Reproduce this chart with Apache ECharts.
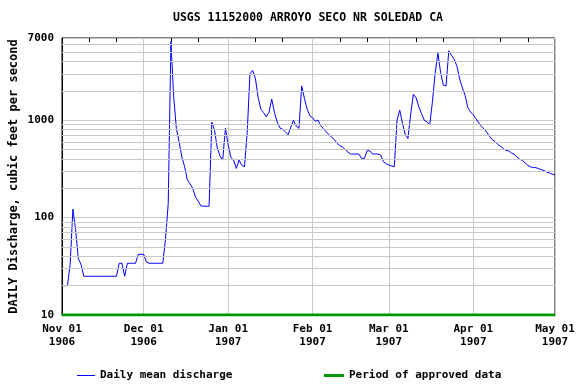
<!DOCTYPE html>
<html><head><meta charset="utf-8">
<script src="https://cdn.jsdelivr.net/npm/echarts@6/dist/echarts.min.js"></script>
<style>html,body{margin:0;padding:0;background:#fff}#c{width:576px;height:384px}</style>
</head><body><div id="c"></div>
<script>
// Daily mean discharge, cfs, 1906-11-01 .. 1907-05-01
const discharge = [
  20,20,20,33,122,75,38,33,25,25,
  25,25,25,25,25,25,25,25,25,25,
  25,34,34,25,34,34,34,34,42,42,
  42,35,34,34,34,34,34,34,60,140,
  6460,1740,820,600,420,335,245,222,200,163,
  148,132,131,131,131,960,790,520,430,390,
  830,560,415,390,320,390,345,333,750,3000,
  3250,2700,1720,1300,1200,1087,1210,1650,1200,960,
  835,810,762,710,850,1000,870,826,2250,1680,
  1300,1110,1060,975,1005,880,820,760,710,670,
  635,580,548,530,500,470,450,450,450,450,
  406,406,486,486,450,450,450,440,375,358,
  347,340,333,1000,1270,930,720,650,1150,1850,
  1700,1380,1170,1000,965,893,1550,3030,4900,3100,
  2300,2250,5180,4650,4230,3600,2650,2150,1800,1350,
  1215,1135,1040,940,865,815,750,680,630,605,
  565,540,515,490,485,460,448,420,398,388,
  366,345,332,328,326,318,311,305,293,287,
  280,275
];
const monthTickIdx = [0, 30, 61, 92, 120, 151, 181];
const monthTickLabels = ['Nov 01\n1906','Dec 01\n1906','Jan 01\n1907','Feb 01\n1907','Mar 01\n1907','Apr 01\n1907','May 01\n1907'];
const minorGridValues = [20,30,40,50,60,70,80,90,200,300,400,500,600,700,800,900,2000,3000,4000,5000,6000];
const approvedPeriod = ['1906-11-01', '1907-05-01'];
const approvedLevel = 10;

const dates = [];
(function(){
  const t0 = Date.UTC(1906, 10, 1);
  for (let i = 0; i < discharge.length; i++) {
    dates.push(new Date(t0 + i * 86400000).toISOString().slice(0, 10));
  }
})();

const FONT = "'DejaVu Sans Mono', monospace";
const isMonthStart = (i) => monthTickIdx.indexOf(i) >= 0;

const chart = echarts.init(document.getElementById('c'), null, {renderer: 'canvas'});
chart.setOption({
  animation: false,
  backgroundColor: '#ffffff',
  title: {
    text: 'USGS 11152000 ARROYO SECO NR SOLEDAD CA',
    left: 308, top: 12, textAlign: 'center', padding: 0,
    textStyle: {fontFamily: FONT, fontWeight: 'bold', fontSize: 11.5, color: '#000'}
  },
  grid: {left: 62, right: 21, top: 38, bottom: 69, show: true, borderColor: '#000', borderWidth: 1,
         containLabel: false, outerBoundsMode: 'none'},
  legend: [
    {data: ['Daily mean discharge'], left: 77, top: 370, padding: 0, icon: 'rect', itemWidth: 18, itemHeight: 1,
     selectedMode: false, textStyle: {fontFamily: FONT, fontWeight: 'bold', fontSize: 11, color: '#000'}},
    {data: ['Period of approved data'], left: 324, top: 370, padding: 0, icon: 'rect', itemWidth: 20, itemHeight: 3,
     selectedMode: false, textStyle: {fontFamily: FONT, fontWeight: 'bold', fontSize: 11, color: '#000'}}
  ],
  xAxis: [
    {
      type: 'category', data: dates, boundaryGap: false, position: 'bottom',
      axisLine: {show: true, lineStyle: {color: '#000'}},
      axisTick: {show: false},
      axisLabel: {
        interval: (i) => isMonthStart(i),
        formatter: (v, i) => monthTickLabels[monthTickIdx.indexOf(i)] || '',
        fontFamily: FONT, fontWeight: 'bold', fontSize: 11, color: '#000', lineHeight: 13, margin: 8
      },
      splitLine: {show: true, interval: (i) => isMonthStart(i), lineStyle: {color: '#c8c8c8', width: 1}}
    },
    {
      type: 'category', data: dates, boundaryGap: false, position: 'top',
      axisLine: {show: false},
      axisTick: {show: true, inside: true, length: 4, interval: (i, v) => v.slice(8) === '11' || v.slice(8) === '21', lineStyle: {color: '#000'}},
      axisLabel: {show: false},
      splitLine: {show: false}
    }
  ],
  yAxis: {
    type: 'log', logBase: 10, min: 10, max: 7000,
    name: 'DAILY Discharge, cubic feet per second',
    nameLocation: 'middle', nameGap: 42, nameMoveOverlap: false,
    nameTextStyle: {fontFamily: FONT, fontWeight: 'bold', fontSize: 12, color: '#000'},
    axisLine: {show: true, lineStyle: {color: '#000'}},
    axisTick: {show: false},
    axisLabel: {formatter: (v) => String(Math.round(v)), fontFamily: FONT, fontWeight: 'bold', fontSize: 11, color: '#000', margin: 8},
    splitLine: {show: true, lineStyle: {color: '#c8c8c8', width: 1}}
  },
  series: [
    {
      name: 'gridlines', type: 'line', data: discharge, showSymbol: false, silent: true, z: 1,
      lineStyle: {opacity: 0}, itemStyle: {opacity: 0}, tooltip: {show: false},
      markLine: {
        silent: true, symbol: ['none', 'none'], label: {show: false}, animation: false,
        lineStyle: {color: '#c8c8c8', width: 1, type: 'solid'},
        emphasis: {disabled: true},
        data: minorGridValues.map(v => ({yAxis: v}))
      }
    },
    {
      name: 'Daily mean discharge', type: 'line', data: discharge, showSymbol: false, z: 3,
      color: '#0000ff', lineStyle: {color: '#0000ff', width: 1}
    },
    {
      name: 'Period of approved data', type: 'line', xAxisIndex: 0,
      data: approvedPeriod.map(d => [d, approvedLevel]), showSymbol: false, z: 4,
      color: '#009900', lineStyle: {color: '#009900', width: 3}
    }
  ]
});
</script>
</body></html>
